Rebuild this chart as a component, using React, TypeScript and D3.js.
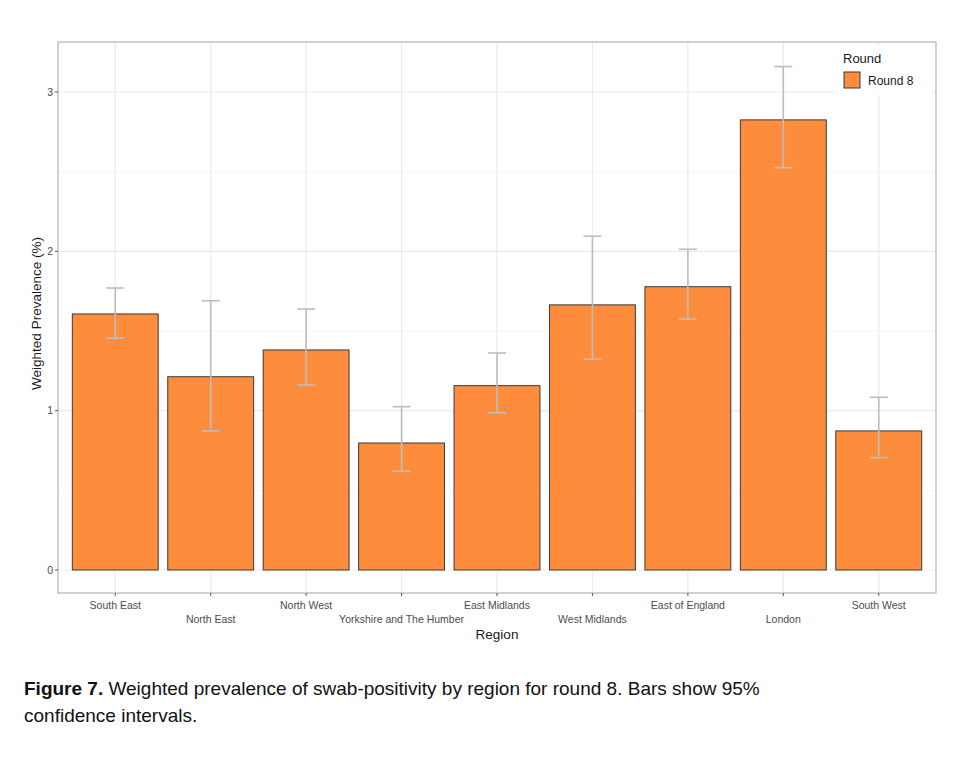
import React from "react";
import * as d3 from "d3";

const regions = ["South East", "North East", "North West", "Yorkshire and The Humber", "East Midlands", "West Midlands", "East of England", "London", "South West"];
const prevalence = [1.607, 1.213, 1.381, 0.797, 1.157, 1.664, 1.778, 2.825, 0.873];
const lower = [1.455, 0.873, 1.161, 0.62, 0.987, 1.323, 1.574, 2.525, 0.705];
const upper = [1.77, 1.69, 1.638, 1.025, 1.362, 2.095, 2.013, 3.16, 1.084];
const yTicks = [0, 1, 2, 3];
const yMinor = [0.5, 1.5, 2.5];

const W = 960, H = 758;
const panel = { left: 58, right: 936, top: 42, bottom: 593 };
const font = "'Liberation Sans', Arial, Helvetica, sans-serif";

export default function App() {
  const step = (panel.right - panel.left) / (regions.length + 0.2);
  const x = d3.scaleBand<string>()
    .domain(regions)
    .range([panel.left + 0.6 * step - step / 2, panel.right - 0.6 * step + step / 2])
    .paddingInner(0.1).paddingOuter(0.05);
  const y = d3.scaleLinear().domain([0, 3]).range([570, 92]);
  const cx = (r: string) => (x(r) as number) + x.bandwidth() / 2;
  const capW = 18;

  return (
    <svg width={W} height={H} style={{ position: "absolute", left: 0, top: 0, background: "#fff" }}>
      <rect x={0} y={0} width={W} height={H} fill="#fff" />
      {/* grid */}
      {yMinor.map(v => (
        <line key={"mn" + v} x1={panel.left} x2={panel.right} y1={y(v)} y2={y(v)} stroke="#f4f4f4" strokeWidth={0.8} />
      ))}
      {yTicks.map(v => (
        <line key={"mj" + v} x1={panel.left} x2={panel.right} y1={y(v)} y2={y(v)} stroke="#ebebeb" strokeWidth={1.2} />
      ))}
      {regions.map(r => (
        <line key={"vg" + r} x1={cx(r)} x2={cx(r)} y1={panel.top} y2={panel.bottom} stroke="#ebebeb" strokeWidth={1.2} />
      ))}
      {/* bars */}
      {regions.map((r, i) => (
        <rect key={"b" + r} x={x(r)} y={y(prevalence[i])} width={x.bandwidth()} height={y(0) - y(prevalence[i])}
          fill="#FD8D3C" stroke="#3a3a3a" strokeWidth={1} />
      ))}
      {/* error bars */}
      {regions.map((r, i) => (
        <g key={"e" + r} stroke="#bdbdbd" strokeWidth={1.6} fill="none">
          <line x1={cx(r)} x2={cx(r)} y1={y(upper[i])} y2={y(lower[i])} />
          <line x1={cx(r) - capW / 2} x2={cx(r) + capW / 2} y1={y(upper[i])} y2={y(upper[i])} />
          <line x1={cx(r) - capW / 2} x2={cx(r) + capW / 2} y1={y(lower[i])} y2={y(lower[i])} />
        </g>
      ))}
      {/* legend */}
      <rect x={836} y={45} width={96} height={50} fill="#fff" />
      <text x={843} y={63} fontFamily={font} fontSize={13} fill="#1a1a1a">Round</text>
      <rect x={844} y={72} width={16} height={16} fill="#FD8D3C" stroke="#3a3a3a" strokeWidth={1} />
      <text x={868} y={85} fontFamily={font} fontSize={12} fill="#1a1a1a">Round 8</text>
      {/* panel border */}
      <rect x={panel.left} y={panel.top} width={panel.right - panel.left} height={panel.bottom - panel.top}
        fill="none" stroke="#b3b3b3" strokeWidth={1.2} />
      {/* y axis ticks */}
      {yTicks.map(v => (
        <g key={"yt" + v}>
          <line x1={panel.left - 3} x2={panel.left} y1={y(v)} y2={y(v)} stroke="#555" strokeWidth={1} />
          <text x={panel.left - 5} y={y(v)} dy="0.35em" textAnchor="end" fontFamily={font} fontSize={10.5} fill="#4d4d4d">{v}</text>
        </g>
      ))}
      {/* x axis ticks */}
      {regions.map((r, i) => (
        <g key={"xt" + r}>
          <line x1={cx(r)} x2={cx(r)} y1={panel.bottom} y2={panel.bottom + 3} stroke="#555" strokeWidth={1} />
          <text x={cx(r)} y={i % 2 === 0 ? 609 : 623} textAnchor="middle" fontFamily={font} fontSize={10.5} fill="#4d4d4d">{r}</text>
        </g>
      ))}
      {/* axis titles */}
      <text x={(panel.left + panel.right) / 2} y={639} textAnchor="middle" fontFamily={font} fontSize={13.5} fill="#1a1a1a">Region</text>
      <text transform={`translate(41, ${(panel.top + panel.bottom) / 2 - 4}) rotate(-90)`} textAnchor="middle" fontFamily={font} fontSize={13.5} fill="#1a1a1a">Weighted Prevalence (%)</text>
      {/* caption */}
      <text x={24} y={695} fontFamily={font} fontSize={19} fill="#111">
        <tspan fontWeight="bold">Figure 7.</tspan> Weighted prevalence of swab-positivity by region for round 8. Bars show 95%
      </text>
      <text x={24} y={722} fontFamily={font} fontSize={19} fill="#111">confidence intervals.</text>
    </svg>
  );
}
